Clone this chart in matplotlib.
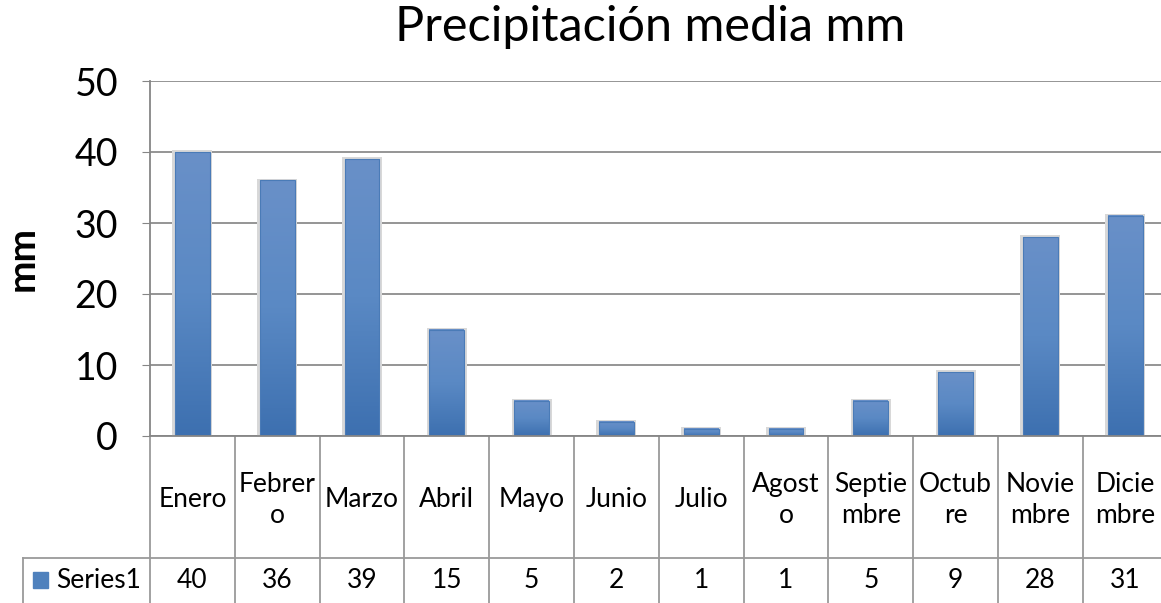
import matplotlib.pyplot as plt
import matplotlib.transforms as mtransforms
from matplotlib.patches import Rectangle
from matplotlib.colors import LinearSegmentedColormap
import numpy as np

plt.rcParams['font.family'] = ['Lato', 'DejaVu Sans']

# datos
meses = ['Enero', 'Febrer\no', 'Marzo', 'Abril', 'Mayo', 'Junio', 'Julio',
         'Agost\no', 'Septie\nmbre', 'Octub\nre', 'Novie\nmbre', 'Dicie\nmbre']
valores = [40, 36, 39, 15, 5, 2, 1, 1, 5, 9, 28, 31]
serie = 'Series1'
titulo = 'Precipitación media mm'
yticks = [0, 10, 20, 30, 40, 50]

W, H = 1161, 603
col_w = 84.8
fig = plt.figure(figsize=(W / 100, H / 100), dpi=100)
ax = fig.add_axes([150 / W, (H - 436) / H, 12 * col_w / W, 355 / H])

x = np.arange(len(valores))
color_barra = '#4F81BD'
ancho = 0.41
# barras con degradado suave (estilo Excel)
grad = LinearSegmentedColormap.from_list('g', ['#3D70B0', '#5A89C4', '#6990C8'])
g = np.linspace(0, 1, 100).reshape(-1, 1)
for xi, v in zip(x, valores):
    # sombra
    ax.add_patch(Rectangle((xi - ancho / 2 - 0.03, 0), ancho + 0.06, v + 0.25,
                           color='#d8d8d8', zorder=2, lw=0))
    ax.imshow(g, cmap=grad, origin='lower', aspect='auto', zorder=3,
              extent=[xi - ancho / 2, xi + ancho / 2, 0, v])
ax.bar(x, valores, width=ancho, facecolor='none', edgecolor='#4A7BB7',
       linewidth=0.8, zorder=4)

ax.set_xlim(-0.5, len(valores) - 0.5)
ax.set_ylim(0, 50)
ax.set_yticks(yticks)
ax.tick_params(axis='y', labelsize=27, length=6, color='#868686', pad=17)
ax.tick_params(axis='x', bottom=False, labelbottom=False)
ax.yaxis.grid(True, color='#8c8c8c', linewidth=1.3, zorder=0)
ax.set_axisbelow(True)
for s in ['top', 'right']:
    ax.spines[s].set_visible(False)
for s in ['left', 'bottom']:
    ax.spines[s].set_color('#868686')
    ax.spines[s].set_linewidth(1.3)
    ax.spines[s].set_zorder(5)

fig.text(650 / W, 1 - 27 / H, titulo, ha='center', va='center', fontsize=35)
fig.text(22 / W, 1 - 258 / H, 'mm', ha='center', va='center', rotation=90,
         fontsize=28, fontweight='bold')

# tabla de datos bajo el eje
tr = mtransforms.blended_transform_factory(ax.transData, ax.transAxes)
y_hdr = -122 / 355
y_bot = -170 / 355
lc = '#9a9a9a'
for i in range(len(valores) + 1):
    ax.plot([i - 0.5, i - 0.5], [0, y_bot], transform=tr, color=lc, lw=1.3,
            clip_on=False)
ftr = fig.transFigure
x_left = 23 / W
fig.add_artist(plt.Line2D([x_left, 1], [1 - 558 / H, 1 - 558 / H],
                          transform=ftr, color=lc, lw=1.3))
fig.add_artist(plt.Line2D([x_left, x_left], [1 - 558 / H, 0],
                          transform=ftr, color=lc, lw=1.3))

for i, (m, v) in enumerate(zip(meses, valores)):
    ax.text(i, y_hdr / 2 - 0.008, m, transform=tr, ha='center', va='center',
            fontsize=19, linespacing=1.3)
    ax.text(i, 1 - 580 / H, str(v), transform=mtransforms.blended_transform_factory(ax.transData, ftr),
            ha='center', va='center', fontsize=19)

fig.add_artist(Rectangle((33 / W, 1 - 588 / H), 15 / W, 16 / H,
                         transform=ftr, color=color_barra))
fig.text(56 / W, 1 - 580 / H, serie, ha='left', va='center', fontsize=19)

fig.savefig('out.png', dpi=100)
